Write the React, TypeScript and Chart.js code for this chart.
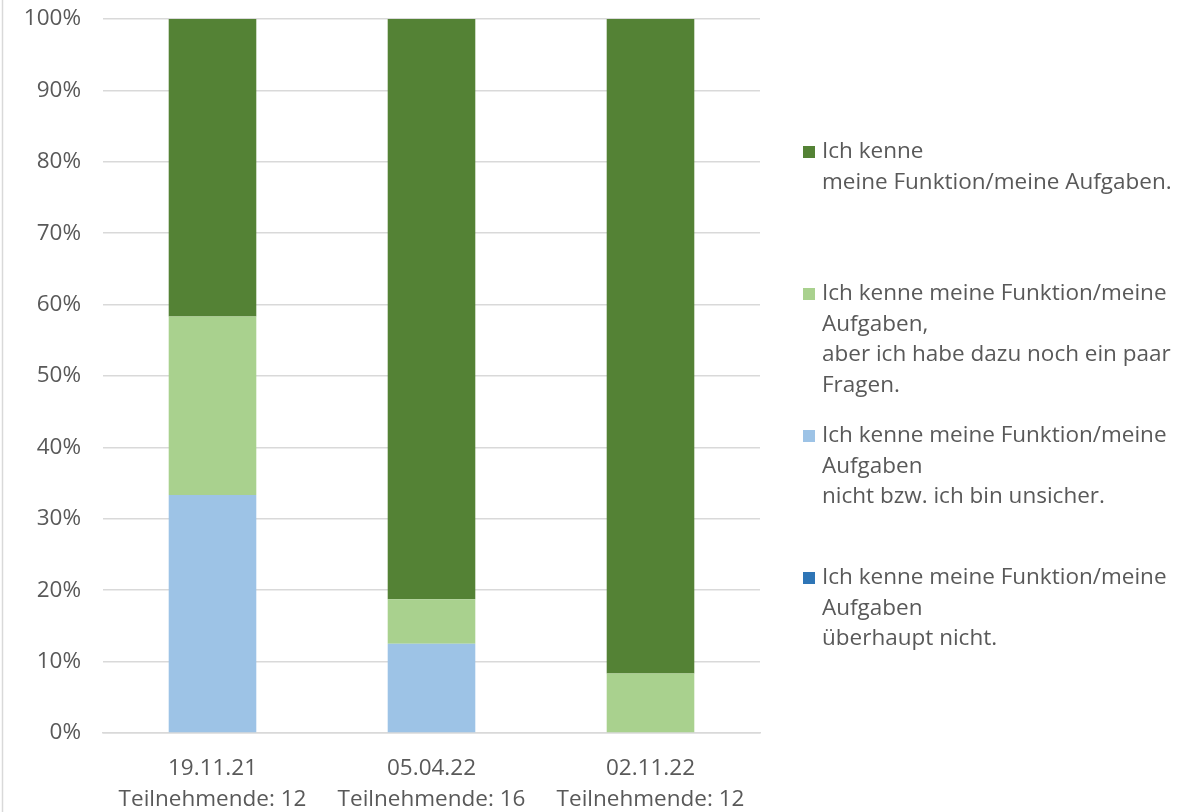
import { useEffect, useRef } from "react";
import { Chart, registerables } from "chart.js";

Chart.register(...registerables);

// Survey dates and number of respondents per survey
const dates = ["19.11.21", "05.04.22", "02.11.22"];
const participants = [12, 16, 12];

// Answer counts per survey (stacked from bottom to top)
const notAtAll = [0, 0, 0];
const unsure = [4, 2, 0];
const someQuestions = [3, 1, 1];
const knowRole = [5, 13, 11];

// Legend text, one entry per line
const notAtAllText = ["Ich kenne meine Funktion/meine", "Aufgaben", "überhaupt nicht."];
const unsureText = ["Ich kenne meine Funktion/meine", "Aufgaben", "nicht bzw. ich bin unsicher."];
const someQuestionsText = [
  "Ich kenne meine Funktion/meine",
  "Aufgaben,",
  "aber ich habe dazu noch ein paar",
  "Fragen.",
];
const knowRoleText = ["Ich kenne", "meine Funktion/meine Aufgaben."];

const yTickStep = 10;
const yMax = 100;

const FONT = "'Open Sans', 'Noto Sans', sans-serif";
const FONT_SIZE = 22.5;
const TEXT_COLOR = "#595959";
const GRID_COLOR = "#d9d9d9";

const toPercent = (counts: number[]) => counts.map((c, i) => (c / participants[i]) * 100);

// Legend drawn to the right of the plot, top entry = top of the stack
const sideLegend = {
  id: "sideLegend",
  beforeDraw(chart: any) {
    const { ctx, height } = chart;
    ctx.save();
    ctx.strokeStyle = GRID_COLOR;
    ctx.lineWidth = 1.5;
    ctx.beginPath();
    ctx.moveTo(2.5, 0);
    ctx.lineTo(2.5, height);
    ctx.stroke();
    ctx.restore();
  },
  afterDraw(chart: any) {
    const { ctx, chartArea } = chart;
    const x0 = chartArea.right + 43;
    const datasets = chart.data.datasets.slice().reverse();
    ctx.save();
    ctx.font = `${FONT_SIZE}px ${FONT}`;
    ctx.textBaseline = "middle";
    ctx.textAlign = "left";
    datasets.forEach((ds: any, i: number) => {
      const y = chartArea.top + 133 + i * 142;
      ctx.fillStyle = ds.backgroundColor;
      ctx.fillRect(x0, y - 6, 12, 12);
      ctx.fillStyle = TEXT_COLOR;
      (ds.legendLines as string[]).forEach((line, j) => {
        ctx.fillText(line, x0 + 19, y + j * 30.5);
      });
    });
    ctx.restore();
  },
};

export default function App() {
  const canvasRef = useRef<HTMLCanvasElement | null>(null);

  useEffect(() => {
    if (!canvasRef.current) return;
    const chart = new Chart(canvasRef.current, {
      type: "bar",
      data: {
        labels: dates.map((d, i) => [d, `Teilnehmende: ${participants[i]}`]),
        datasets: [
          {
            label: notAtAllText.join(" "),
            legendLines: notAtAllText,
            data: toPercent(notAtAll),
            backgroundColor: "#2e75b6",
          },
          {
            label: unsureText.join(" "),
            legendLines: unsureText,
            data: toPercent(unsure),
            backgroundColor: "#9dc3e6",
          },
          {
            label: someQuestionsText.join(" "),
            legendLines: someQuestionsText,
            data: toPercent(someQuestions),
            backgroundColor: "#a9d18e",
          },
          {
            label: knowRoleText.join(" "),
            legendLines: knowRoleText,
            data: toPercent(knowRole),
            backgroundColor: "#548235",
          },
        ] as any,
      },
      options: {
        animation: false,
        responsive: true,
        maintainAspectRatio: false,
        layout: { padding: { top: 19, right: 428, left: 0, bottom: 0 } },
        datasets: {
          bar: { barPercentage: 1, categoryPercentage: 0.4, borderWidth: 0 },
        },
        plugins: {
          legend: { display: false },
          tooltip: { enabled: false },
        },
        scales: {
          x: {
            stacked: true,
            grid: { display: false, drawTicks: false },
            border: { display: true, color: GRID_COLOR, width: 1.5 },
            ticks: {
              color: TEXT_COLOR,
              font: { family: FONT, size: FONT_SIZE, lineHeight: 1.37 },
              padding: 20,
              maxRotation: 0,
            },
            afterFit: (scale: any) => {
              scale.height = 79;
            },
          },
          y: {
            stacked: true,
            min: 0,
            max: yMax,
            grid: { color: GRID_COLOR, lineWidth: 1.5, drawTicks: false },
            border: { display: false },
            ticks: {
              stepSize: yTickStep,
              color: TEXT_COLOR,
              font: { family: FONT, size: FONT_SIZE },
              padding: 22,
              callback: (v: any) => `${v}%`,
            },
            afterFit: (scale: any) => {
              scale.width = 103;
              scale.paddingTop = 0;
              scale.paddingBottom = 0;
            },
          },
        },
      },
      plugins: [sideLegend],
    });
    return () => chart.destroy();
  }, []);

  return (
    <div style={{ position: "absolute", left: 0, top: 0, width: 1188, height: 812, background: "#fff" }}>
      <canvas ref={canvasRef} />
    </div>
  );
}
